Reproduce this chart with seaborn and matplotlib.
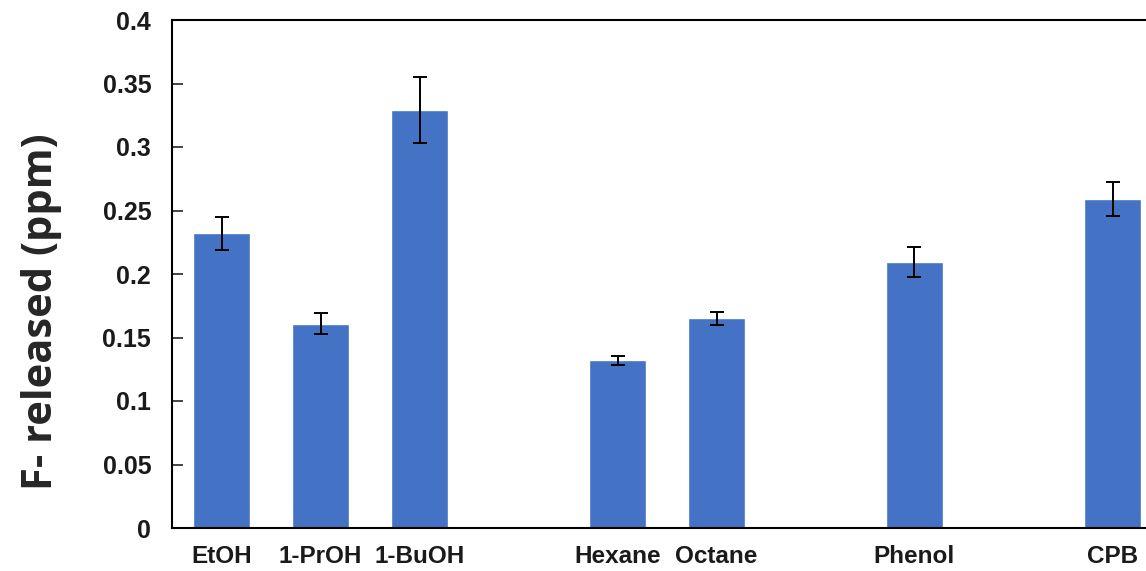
import matplotlib
matplotlib.use("Agg")
import matplotlib.pyplot as plt
import seaborn as sns
import pandas as pd
import numpy as np

categories = ["EtOH", "1-PrOH", "1-BuOH", "Hexane", "Octane", "Phenol", "CPB"]
values = [0.232, 0.161, 0.329, 0.132, 0.165, 0.2095, 0.259]
errors = [0.013, 0.0085, 0.026, 0.0035, 0.005, 0.0115, 0.0135]
# full category axis, with blank gap slots
order = ["EtOH", "1-PrOH", "1-BuOH", " ", "Hexane", "Octane", "  ", "Phenol", "   ", "CPB"]
yticks = [0, 0.05, 0.1, 0.15, 0.2, 0.25, 0.3, 0.35, 0.4]
ytick_labels = ["0", "0.05", "0.1", "0.15", "0.2", "0.25", "0.3", "0.35", "0.4"]

sns.set_style("white")
plt.rcParams['font.family'] = ['Liberation Sans', 'DejaVu Sans']

df = pd.DataFrame({"cat": categories, "val": values, "err": errors})

fig = plt.figure(figsize=(11.46, 5.71), dpi=100)
ax = fig.add_axes([172/1146, 1 - 528/571, 990/1146, 508/571])

sns.barplot(data=df, x="cat", y="val", order=order, color="#4472C4",
            width=0.58, saturation=1, errorbar=None, ax=ax)

pos = [order.index(c) for c in categories]
ax.errorbar(pos, values, yerr=errors, fmt="none", ecolor="black",
            elinewidth=1.4, capsize=5, capthick=1.4)

ax.set_xlim(-0.5, 9.5)
ax.set_ylim(0, 0.4)
ax.set_yticks(yticks)
ax.set_yticklabels(ytick_labels, fontsize=18, fontweight="bold", color="#1a1a1a")
ax.set_xticks(range(len(order)))
ax.set_xticklabels(order, fontsize=17.5, fontweight="bold", color="#1a1a1a")
ax.tick_params(axis="y", direction="in", length=8, width=1.2, left=True, pad=15)
ax.tick_params(axis="x", length=0, pad=12)
ax.set_xlabel("")
ax.set_ylabel("F- released (ppm)", fontsize=30, fontweight="bold",
              family=["Open Sans", "DejaVu Sans"])
ax.yaxis.set_label_coords(-0.111, 0.425)

for s in ["left", "bottom", "top", "right"]:
    ax.spines[s].set_visible(True)
    ax.spines[s].set_color("black")
    ax.spines[s].set_linewidth(1.5)

fig.savefig("out.png", dpi=100)
